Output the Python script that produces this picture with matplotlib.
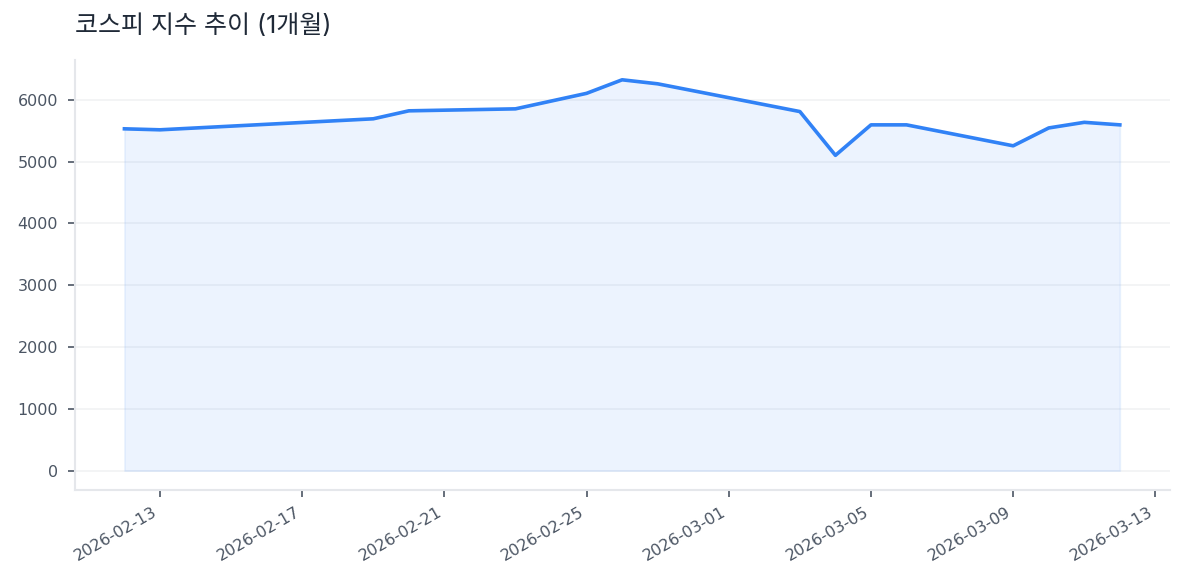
import numpy as np
import pandas as pd
import matplotlib
matplotlib.use("Agg")
import matplotlib.pyplot as plt
import matplotlib.dates as mdates

plt.rcParams['font.family'] = ['DejaVu Sans', 'Noto Sans CJK KR']

# 코스피 종가
dates = pd.to_datetime([
    "2026-02-12", "2026-02-13", "2026-02-19", "2026-02-20", "2026-02-23",
    "2026-02-25", "2026-02-26", "2026-02-27", "2026-03-03", "2026-03-04",
    "2026-03-05", "2026-03-06", "2026-03-09", "2026-03-10", "2026-03-11",
    "2026-03-12",
])
closes = [5531, 5515, 5693, 5822, 5854,
          6105, 6324, 6259, 5810, 5102,
          5595, 5595, 5256, 5545, 5636,
          5595]
tick_dates = pd.date_range("2026-02-13", "2026-03-13", freq="4D")

title = "코스피 지수 추이 (1개월)"
line_color = "#3182f6"
text_color = "#4b5563"
spine_color = "#e5e7eb"

fig = plt.figure(figsize=(11.85, 5.85), dpi=100)
ax = fig.add_axes([0.063, 0.162, 0.924, 0.735])

ax.fill_between(dates, closes, 0, color=line_color, alpha=0.09, linewidth=1.2)
ax.plot(dates, closes, color=line_color, linewidth=2.6)

ax.set_xticks(tick_dates)
ax.xaxis.set_major_formatter(mdates.DateFormatter("%Y-%m-%d"))

ax.grid(axis='y', color='#f1f2f4', linewidth=1.2)
ax.set_axisbelow(True)
for s in ['top', 'right']:
    ax.spines[s].set_visible(False)
for s in ['left', 'bottom']:
    ax.spines[s].set_color(spine_color)
    ax.spines[s].set_linewidth(1.5)

ax.tick_params(colors=text_color, labelsize=11.5, length=5, width=1.2)
ax.tick_params(axis='y', pad=7)
ax.tick_params(axis='x', pad=5)
plt.setp(ax.get_xticklabels(), rotation=30, ha='right')

fig.text(0.063, 0.955, title, fontsize=18, color='#1f2937', ha='left', va='center',
         family=['Inter', 'Noto Sans CJK KR'])

fig.savefig("out.png", dpi=100)
